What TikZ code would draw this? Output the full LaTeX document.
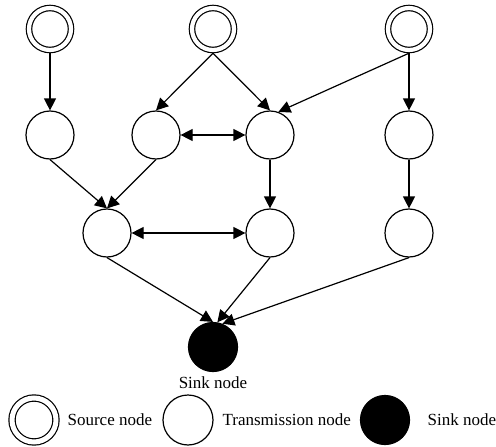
\documentclass[tikz,border=0pt]{standalone}
\usepackage{fontspec}
\setmainfont{Liberation Serif}
\usetikzlibrary{arrows.meta,positioning}

\begin{document}
\begin{tikzpicture}[x=1pt,y=-1pt,line width=1.2pt,
  src/.style={circle,draw,double,double distance=4.2pt,minimum size=42pt,inner sep=0pt,outer sep=3.2pt},
  trans/.style={circle,draw,minimum size=48pt,inner sep=0pt},
  sink/.style={circle,draw,fill=black,minimum size=49pt,inner sep=0pt},
  lbl/.style={font=\fontsize{17}{20}\selectfont,inner sep=0pt},
  flow/.style={-{Triangle[length=12pt,width=12pt]}},
  both/.style={{Triangle[length=12pt,width=12pt]}-{Triangle[length=12pt,width=12pt]}}]
\useasboundingbox (0,0) rectangle (496,447);

\node[src] (sa) at (50,29) {};
\node[src] (sb) at (213,29) {};
\node[src] (sc) at (409,29) {};

\node[trans] (ta) at (50,135) {};
\node[trans] (tb) at (156,135) {};
\node[trans] (tc) at (270,135) {};
\node[trans] (td) at (409,135) {};

\node[trans] (ua) at (107,233) {};
\node[trans] (ub) at (270,233) {};
\node[trans] (uc) at (409,233) {};

\node[sink] (snk) at (213,347) {};
\node[lbl,below=4pt of snk] (snklbl) {Sink node};

\draw[flow] (sa.south) -- (ta.north);
\draw[flow] (sb.south) -- (tb.north);
\draw[flow] (sb.south) -- (tc.north);
\draw[flow] (sc.south) -- (tc.70);
\draw[flow] (sc.south) -- (td.north);
\draw[both] (tb.east) -- (tc.west);

\draw[flow] (ta.south) -- (ua.north);
\draw[flow] (tb.south) -- (ua.north);
\draw[flow] (tc.south) -- (ub.north);
\draw[flow] (td.south) -- (uc.north);
\draw[both] (ua.east) -- (ub.west);

\draw[flow] (ua.south) -- (snk.north);
\draw[flow] (ub.south) -- (snk.80);
\draw[flow] (uc.south) -- (snk.68);

% legend
\node[src,minimum size=44pt,double distance=5pt] (lgsrc) at (34,420) {};
\node[lbl,anchor=west] (lgsrctxt) at (67,420) {Source node};
\node[trans,minimum size=50pt] (lgtr) at (188,420) {};
\node[lbl,anchor=west] (lgtrtxt) at (222,420) {Transmission node};
\node[sink] (lgsnk) at (385,420) {};
\node[lbl,anchor=west] (lgsnktxt) at (427,420) {Sink node};
\end{tikzpicture}
\end{document}
